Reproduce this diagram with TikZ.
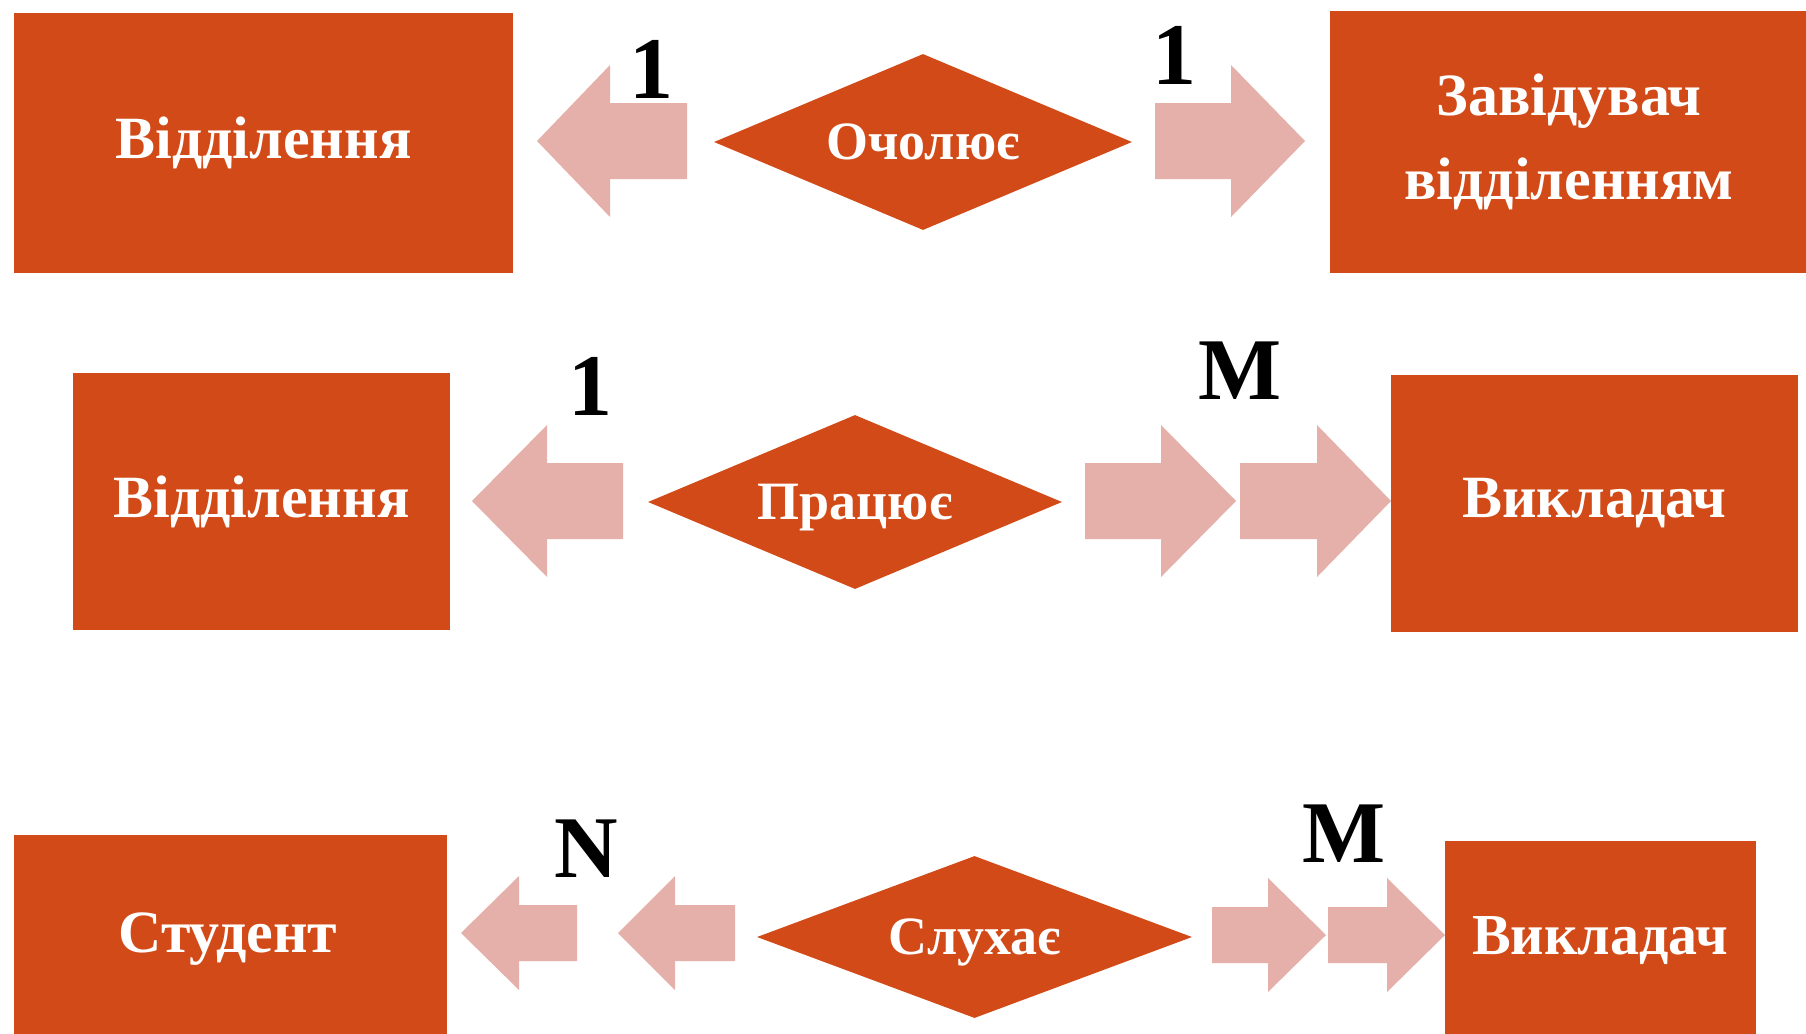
\documentclass[tikz,border=0pt]{standalone}
\usepackage{fontspec}
\setmainfont{Liberation Serif}
\usetikzlibrary{shapes.geometric}
\definecolor{boxred}{RGB}{209,74,23}
\definecolor{arrpink}{RGB}{229,176,170}
\newcommand\arrR[4]{% shaft start, head base, tip, center y ; large
  \fill[arrpink] (#1,#4-38) -- (#2,#4-38) -- (#2,#4-76) -- (#3,#4) -- (#2,#4+76) -- (#2,#4+38) -- (#1,#4+38) -- cycle;}
\newcommand\arrRs[4]{% small
  \fill[arrpink] (#1,#4-28) -- (#2,#4-28) -- (#2,#4-57) -- (#3,#4) -- (#2,#4+57) -- (#2,#4+28) -- (#1,#4+28) -- cycle;}
\begin{document}
\begin{tikzpicture}[x=1pt,y=-1pt,
  ent/.style={fill=boxred,draw=none,inner sep=0pt,text=white,font=\fontsize{60}{66}\selectfont\bfseries,align=center},
  dia/.style={diamond,fill=boxred,draw=none,inner sep=0pt,text=white,font=\fontsize{54}{60}\selectfont\bfseries,text depth=0pt},
  card/.style={inner sep=0pt,text=black,font=\fontsize{88}{90}\selectfont\bfseries},
  lbl/.style={inner sep=0pt,text=white,font=\fontsize{60}{66}\selectfont\bfseries,align=center}]
\useasboundingbox (0,0) rectangle (1806,1033);
\clip (0,0) rectangle (1806,1033);
% Row 1
\node[ent,minimum width=499pt,minimum height=260pt] (b1) at (263.5,143) {Відділення};
\fill[boxred] (1330,11) rectangle (1850,273);
\node[lbl] (b2) at (1569,142) {Завідувач\\[18pt]відділенням};
\node[dia,minimum width=418pt,minimum height=176pt,shape aspect=2.4] (d1) at (923,142) {Очолює};
\arrR{687}{610}{537}{141}
\arrR{1155}{1231}{1305}{141}
\node[card] (c1) at (651,69) {1};
\node[card] (c2) at (1174,55) {1};
% Row 2
\node[ent,minimum width=377pt,minimum height=257pt] (b3) at (261.5,501.5) {Відділення};
\node[ent,minimum width=407pt,minimum height=257pt] (b4) at (1594.5,503.5) {Викладач};
\node[dia,minimum width=414pt,minimum height=174pt,shape aspect=2.4] (d2) at (855,502) {Працює};
\arrR{623}{547}{472}{501}
\arrR{1085}{1161}{1236}{501}
\arrR{1240}{1317}{1391}{501}
\node[card] (c3) at (590,386) {1};
\node[card] (c4) at (1240,371) {M};
% Row 3
\fill[boxred] (14,835) rectangle (447,1060);
\node[lbl,text depth=0pt] (b5) at (228,933) {Студент};
\fill[boxred] (1445,841) rectangle (1756,1060);
\node[lbl,text depth=0pt,font=\fontsize{58}{64}\selectfont\bfseries] (b6) at (1600,935) {Викладач};
\node[dia,minimum width=435pt,minimum height=162pt,shape aspect=2.7] (d3) at (974.5,937) {Слухає};
\arrRs{577}{519}{461}{933}
\arrRs{735}{675}{618}{933}
\arrRs{1212}{1268}{1326}{935}
\arrRs{1328}{1387}{1445}{935}
\node[card] (c5) at (586,849) {N};
\node[card] (c6) at (1344,834) {M};
\end{tikzpicture}
\end{document}
